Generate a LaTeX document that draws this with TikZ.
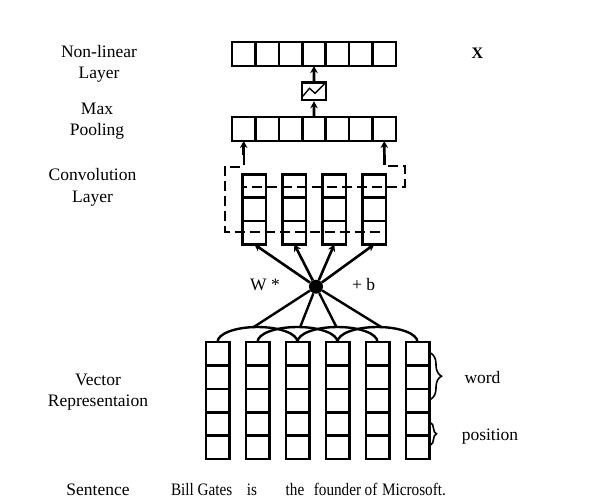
\documentclass[tikz,border=0pt]{standalone}
\usepackage{fontspec}
\setmainfont{Liberation Serif}
\newfontfamily\sentfont[FakeStretch=0.87]{Liberation Serif}
\usetikzlibrary{arrows.meta,decorations.pathreplacing}
\begin{document}
\begin{tikzpicture}[x=1pt,y=1pt,
  cell/.style={draw,line width=2.6pt,rectangle,minimum width=23.4pt,minimum height=23.4pt,inner sep=0pt,outer sep=0pt},
  arr/.style={line width=2.6pt,-{Stealth[length=7pt,width=7.5pt]}},
  plain/.style={line width=2.4pt},
  dline/.style={line width=2.4pt,dash pattern=on 10pt off 5pt},
  lbl/.style={font=\fontsize{17.5}{21.5}\selectfont,align=center,inner sep=0pt},
  word/.style={font=\sentfont\fontsize{17.5}{21}\selectfont,inner sep=0pt,anchor=base},
  brc/.style={decorate,line width=1.6pt}]
\useasboundingbox (0,0) rectangle (616,-498);
% non-linear layer and max pooling
\foreach \i in {0,...,6}{
  \node[cell,minimum height=24pt] (nl\i) at (243.7+23.43*\i,-54) {};
  \node[cell,minimum height=24pt] (mp\i) at (243.7+23.43*\i,-129) {};
}
% activation box
\node[draw,line width=2.4pt,minimum width=24.5pt,minimum height=17.5pt,inner sep=0pt] (act) at (314,-91.3) {};
\draw[line width=1.4pt] ([shift={(-11,-4.8)}]act.center) -- ([shift={(-4.5,3)}]act.center) -- ([shift={(1,-2)}]act.center) -- ([shift={(10.3,7.3)}]act.center);
\draw[arr] (mp3.north) -- (act.south);
\draw[arr] (act.north) -- (nl3.south);
% convolution columns
\foreach \i in {0,...,3}{
  \foreach \j in {0,...,2}{
    \node[cell,minimum height=23.33pt] (c\i-\j) at (254.3+40*\i,-186-23.33*\j) {};
  }
}
% dashed windows and arrows to pooling
\coordinate (la) at (243.7,-155);
\coordinate (ra) at (384.3,-155);
\draw[arr] (la) -- (mp0.south);
\draw[arr] (ra) -- (mp6.south);
\draw[dline] (la) -- ++(0,-11.7) -| (225,-231.7) -- (386,-231.7);
\draw[dline] (ra) -- ++(0,-11) -| (405,-186.7) -- (243,-186.7);
% operator
\node[circle,fill=black,minimum size=14pt,inner sep=0pt] (op) at (316,-286.7) {};
\foreach \i in {0,...,3}{
  \draw[arr] (op) -- (c\i-2.south);
}
\node[lbl] (wlab) at (265,-285) {W *};
\node[lbl] (blab) at (363.7,-285) {+ b};
% vector representation columns
\foreach \i in {0,...,5}{
  \foreach \j in {0,...,4}{
    \node[cell] (v\i-\j) at (217.5+40*\i,-353.7-23.4*\j) {};
  }
}
\foreach \i in {0,...,3}{
  \draw[plain] (v\i-0.north) arc[start angle=180,end angle=0,x radius=40pt,y radius=15pt];
}
\coordinate (p0) at (253.3,-327.3);
\coordinate (p1) at (300,-327.5);
\coordinate (p2) at (336.7,-327.5);
\coordinate (p3) at (381.7,-327.3);
\foreach \i in {0,...,3}{
  \draw[plain] (op) -- (p\i);
}
% braces
\draw[brc,decoration={brace,amplitude=11pt}] (430.5,-353) -- (430.5,-399.3);
\draw[brc,decoration={brace,amplitude=6pt}] (430.5,-422.7) -- (430.5,-445);
\node[lbl] (wordlab) at (482.5,-378) {word};
\node[lbl] (poslab) at (490,-437) {position};
% left labels
\node[lbl] (l1) at (99,-64) {Non-linear\\Layer};
\node[lbl] (l2) at (97,-121) {Max\\Pooling};
\node[lbl] (l3) at (92.5,-187.5) {Convolution\\Layer};
\node[lbl] (l4) at (98,-392) {Vector\\Representaion};
\node[lbl] (l5) at (98,-490) {Sentence};
\node[lbl,font=\bfseries\fontsize{16}{19}\selectfont] (xl) at (477.5,-53) {X};
% sentence words
\node[word] (s1) at (182.5,-495.5) {Bill};
\node[word] (s2) at (215,-495.5) {Gates};
\node[word] (s3) at (252,-495.5) {is};
\node[word] (s4) at (295,-495.5) {the};
\node[word] (s5) at (337.5,-495.5) {founder};
\node[word] (s6) at (371,-495.5) {of};
\node[word] (s7) at (414,-495.5) {Microsoft.};
\end{tikzpicture}
\end{document}
